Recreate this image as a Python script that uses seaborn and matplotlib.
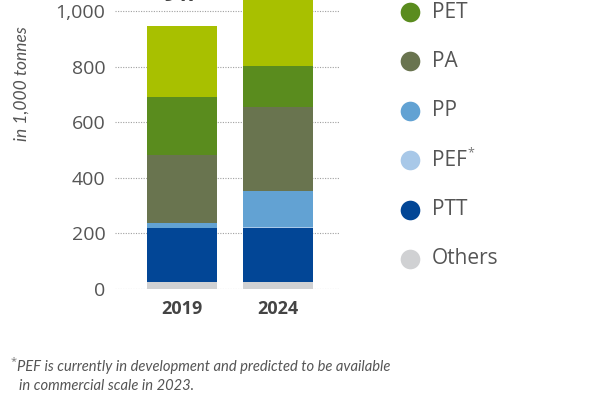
import matplotlib
matplotlib.use("Agg")
import matplotlib.pyplot as plt
import seaborn as sns
import pandas as pd
import numpy as np

# ---- data (1,000 tonnes) ----
years = ["2019", "2024"]
categories = ["PE", "PET", "PA", "PP", "PEF", "PTT", "Others"]
legend_labels = ["PE", "PET", "PA", "PP", "PEF", "PTT", "Others"]
others = [24, 24]
ptt = [194, 196]
pef = [0, 4]
pp = [20, 128]
pa = [244, 302]
pet = [210, 149]
pe = [255, 330]
totals_label = ["947", "1,133"]
y_ticks = [0, 200, 400, 600, 800, 1000]
y_ticklabels = ["0", "200", "400", "600", "800", "1,000"]
footnote_lines = ["PEF is currently in development and predicted to be available",
                  "in commercial scale in 2023."]

colors = {
    "PE": "#a8c000",
    "PET": "#5a8c1e",
    "PA": "#69744f",
    "PP": "#62a2d3",
    "PEF": "#a8c8e8",
    "PTT": "#024696",
    "Others": "#d0d1d3",
}

# stack order bottom -> top
stack = [("Others", others), ("PTT", ptt), ("PEF", pef), ("PP", pp),
         ("PA", pa), ("PET", pet), ("PE", pe)]

sns.set_theme(style="white")
plt.rcParams["font.family"] = ["Open Sans", "DejaVu Sans"]

fig = plt.figure(figsize=(6, 4), dpi=100)
# axes: zero at pixel 289 from top, 0.278 px per unit, top cut off
px_per_unit = 0.278
zero_px = 289
ymax = 1200
bottom_frac = (400 - zero_px) / 400
top_frac = (400 - (zero_px - ymax * px_per_unit)) / 400
left_px, right_px = 115, 340
ax = fig.add_axes([left_px / 600, bottom_frac, (right_px - left_px) / 600, top_frac - bottom_frac])

cum = np.zeros(len(years))
cums = []
for name, vals in stack:
    cum = cum + np.array(vals, dtype=float)
    cums.append((name, cum.copy()))

# draw tallest cumulative first so lower layers overlay
for name, c in reversed(cums):
    df = pd.DataFrame({"year": years, "value": c})
    sns.barplot(data=df, x="year", y="value", color=colors[name], saturation=1,
                width=0.727, ax=ax, linewidth=0, zorder=3)

for i, t in enumerate(totals_label):
    ax.annotate(t, xy=(i, cums[-1][1][i]), xytext=(0, 17.5), textcoords="offset points",
                ha="center", va="baseline", fontsize=15, fontweight="bold", color="#444444")

ax.set_ylim(0, ymax)
bar_c0, bar_c1 = 181.7, 278.0
step = bar_c1 - bar_c0
ax.set_xlim(-(bar_c0 - left_px) / step, 1 + (right_px - bar_c1) / step)
ax.set_yticks(y_ticks)
ax.set_yticklabels(y_ticklabels)
ax.yaxis.grid(True, linestyle=(0, (1, 1.3)), color="#a0a0a0", linewidth=0.8)
ax.set_axisbelow(True)
for s in ax.spines.values():
    s.set_visible(False)
ax.tick_params(axis="y", length=0, pad=7, labelsize=14, labelcolor="#555555")
ax.tick_params(axis="x", length=0, pad=8, labelsize=13, labelcolor="#444444")
for lab in ax.get_xticklabels():
    lab.set_fontweight("bold")
ax.set_xlabel("")
ax.set_ylabel("")

fig.text(22 / 600, 1 - 84 / 400, "in 1,000 tonnes", rotation=90, ha="center", va="center",
         fontsize=12.5, fontstyle="italic", color="#555555", family=["Lato", "DejaVu Sans"])

# legend in pixel coordinates
lax = fig.add_axes([0, 0, 1, 1])
lax.set_xlim(0, 600)
lax.set_ylim(400, 0)
lax.axis("off")
leg_y0, leg_step = 12 - 49.4, 49.4
for k, name in enumerate(legend_labels):
    yy = leg_y0 + k * leg_step
    lax.scatter([410], [yy], s=200, color=colors[name], linewidths=0, clip_on=True)
    lax.text(432, yy, name, va="center", ha="left", fontsize=15, color="#555555")
    if name == "PEF":
        lax.text(467, yy - 7, "*", va="center", ha="left", fontsize=9, color="#777777")

lax.text(11, 362, "*", fontsize=8, color="#777777", va="center", ha="left")
for j, line in enumerate(footnote_lines):
    lax.text(17 + 2 * j, 367 + 19 * j, line,
             fontsize=10.6, fontstyle="italic", color="#555555", va="center", ha="left",
             family=["Lato", "DejaVu Sans"])

fig.savefig("out.png", dpi=100)
